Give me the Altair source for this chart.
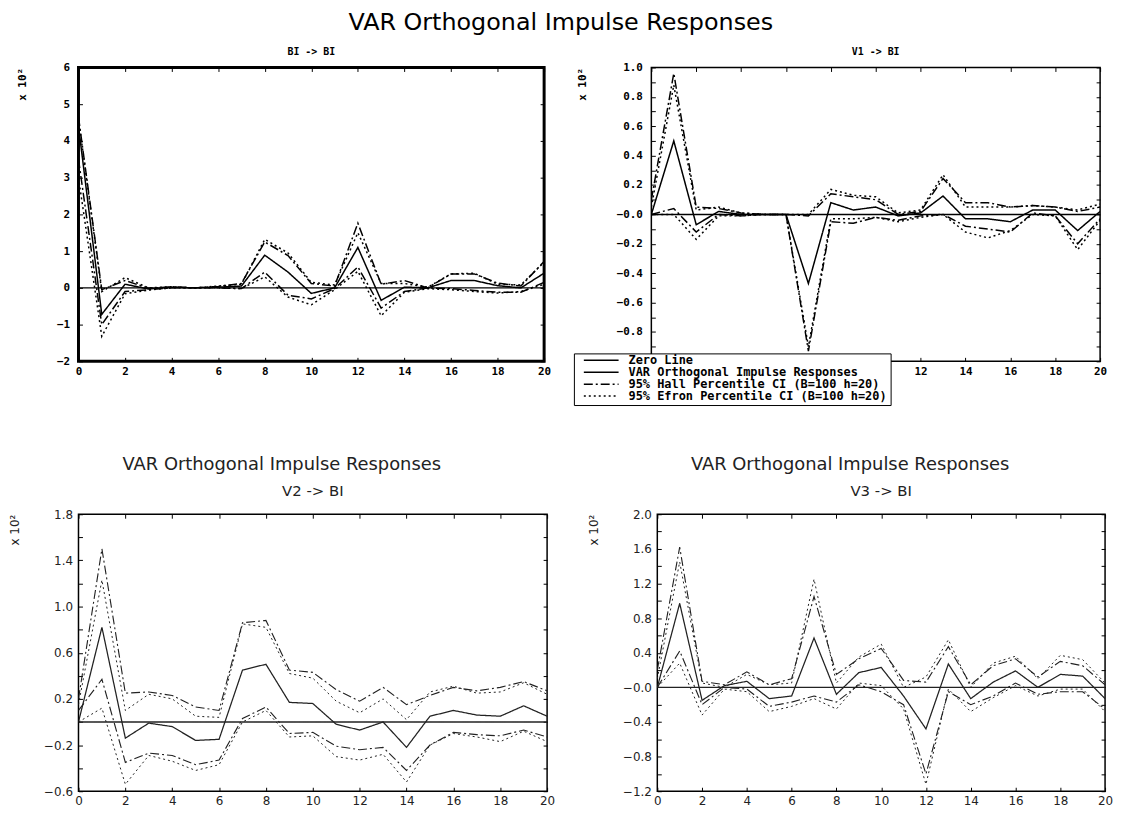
import altair as alt
import pandas as pd

STEPS = list(range(21))
SERIES = ["Zero Line", "VAR Orthogonal Impulse Responses",
          "95% Hall Percentile CI (B=100 h=20)", "95% Efron Percentile CI (B=100 h=20)"]
MAIN_TITLE = "VAR Orthogonal Impulse Responses"
PANEL_TITLES = ["BI -> BI", "V1 -> BI", "V2 -> BI", "V3 -> BI"]
ZERO = [0.0] * 21

# ---- BI -> BI
p1_main = [4.4, -0.72, 0.1, -0.03, 0.02, 0.0, 0.02, 0.05, 0.89, 0.43, -0.15, 0.0, 1.1, -0.34, 0.02, 0.0, 0.2, 0.2, 0.06, 0.0, 0.4]
p1_hall_hi = [4.65, -0.05, 0.2, -0.01, 0.03, 0.0, 0.04, 0.12, 1.25, 0.88, 0.12, 0.05, 1.76, 0.1, 0.2, 0.0, 0.38, 0.38, 0.13, 0.05, 0.72]
p1_hall_lo = [3.5, -1.0, -0.1, -0.05, 0.0, 0.0, 0.0, -0.02, 0.43, -0.2, -0.3, -0.02, 0.57, -0.55, -0.1, 0.0, -0.02, -0.07, -0.12, -0.12, 0.15]
p1_efr_hi = [4.6, -0.1, 0.28, 0.0, 0.03, 0.0, 0.05, 0.1, 1.32, 0.95, 0.15, 0.08, 1.5, 0.12, 0.12, 0.02, 0.38, 0.4, 0.1, 0.08, 0.7]
p1_efr_lo = [3.0, -1.32, -0.16, -0.06, 0.0, 0.0, 0.0, -0.02, 0.3, -0.25, -0.46, -0.05, 0.45, -0.76, -0.12, -0.02, -0.05, -0.1, -0.14, -0.1, 0.1]

# ---- V1 -> BI
p2_main = [0.0, 0.5, -0.07, 0.02, 0.0, 0.0, 0.0, -0.47, 0.08, 0.03, 0.05, -0.01, 0.01, 0.125, -0.03, -0.03, -0.05, 0.03, 0.03, -0.11, 0.02]
p2_hall_hi = [0.1, 0.96, 0.05, 0.04, 0.01, 0.0, 0.0, -0.01, 0.14, 0.12, 0.1, 0.0, 0.02, 0.245, 0.08, 0.08, 0.05, 0.06, 0.05, 0.02, 0.05]
p2_hall_lo = [0.0, 0.04, -0.12, 0.0, -0.01, 0.0, 0.0, -0.93, -0.05, -0.06, -0.02, -0.04, -0.01, 0.0, -0.08, -0.1, -0.12, 0.01, -0.01, -0.2, -0.03]
p2_efr_hi = [0.05, 0.88, 0.03, 0.05, 0.01, 0.0, 0.0, 0.0, 0.17, 0.13, 0.12, 0.01, 0.03, 0.27, 0.05, 0.05, 0.05, 0.06, 0.05, 0.03, 0.07]
p2_efr_lo = [0.0, 0.0, -0.17, -0.01, -0.01, 0.0, 0.0, -0.9, -0.03, -0.03, -0.02, -0.05, -0.02, 0.0, -0.12, -0.16, -0.11, 0.0, -0.01, -0.24, -0.04]

# ---- V2 -> BI
p3_main = [0.0, 0.82, -0.14, -0.01, -0.04, -0.16, -0.15, 0.45, 0.5, 0.17, 0.16, -0.02, -0.07, 0.0, -0.22, 0.05, 0.1, 0.06, 0.05, 0.14, 0.05]
p3_hall_hi = [0.2, 1.5, 0.25, 0.26, 0.23, 0.13, 0.1, 0.86, 0.88, 0.45, 0.43, 0.28, 0.18, 0.3, 0.15, 0.23, 0.3, 0.27, 0.3, 0.35, 0.27]
p3_hall_lo = [0.1, 0.37, -0.35, -0.27, -0.29, -0.37, -0.33, 0.03, 0.13, -0.1, -0.09, -0.21, -0.24, -0.22, -0.42, -0.2, -0.09, -0.11, -0.12, -0.07, -0.13]
p3_efr_hi = [0.15, 1.23, 0.1, 0.24, 0.2, 0.05, 0.04, 0.85, 0.82, 0.42, 0.38, 0.18, 0.08, 0.2, 0.02, 0.26, 0.31, 0.25, 0.26, 0.34, 0.24]
p3_efr_lo = [0.0, 0.12, -0.54, -0.29, -0.34, -0.42, -0.37, 0.0, 0.1, -0.13, -0.12, -0.3, -0.33, -0.28, -0.52, -0.2, -0.1, -0.13, -0.17, -0.08, -0.17]

# ---- V3 -> BI
p4_main = [0.0, 0.97, -0.15, 0.02, 0.07, -0.13, -0.1, 0.57, -0.08, 0.17, 0.23, -0.1, -0.48, 0.27, -0.13, 0.06, 0.19, 0.0, 0.15, 0.13, -0.13]
p4_hall_hi = [0.2, 1.62, 0.07, 0.03, 0.18, 0.03, 0.1, 1.05, 0.15, 0.33, 0.45, 0.08, 0.06, 0.47, 0.03, 0.25, 0.33, 0.12, 0.3, 0.25, 0.03]
p4_hall_lo = [0.0, 0.42, -0.2, 0.0, -0.02, -0.22, -0.17, -0.1, -0.17, 0.03, -0.05, -0.2, -1.0, -0.05, -0.2, -0.1, 0.05, -0.08, -0.05, -0.05, -0.25]
p4_efr_hi = [0.1, 1.45, 0.05, 0.0, 0.15, 0.03, 0.05, 1.25, 0.05, 0.35, 0.5, 0.0, 0.12, 0.55, 0.0, 0.28, 0.36, 0.1, 0.37, 0.32, 0.05]
p4_efr_lo = [0.0, 0.28, -0.32, -0.02, -0.05, -0.28, -0.22, -0.13, -0.25, 0.05, 0.02, -0.25, -1.12, -0.02, -0.28, -0.12, 0.02, -0.1, -0.02, -0.02, -0.28]

X_TICKS = list(range(0, 21, 2))


def long_frame(main, hall_hi, hall_lo, efr_hi, efr_lo):
    parts = [("zero", SERIES[0], ZERO), ("main", SERIES[1], main),
             ("hall_hi", SERIES[2], hall_hi), ("hall_lo", SERIES[2], hall_lo),
             ("efr_hi", SERIES[3], efr_hi), ("efr_lo", SERIES[3], efr_lo)]
    rows = [dict(step=s, value=v, series=name, band=band)
            for band, name, vals in parts for s, v in zip(STEPS, vals)]
    return pd.DataFrame(rows)


def panel(df, title, ydom, yticks, label_expr, w, h, style, legend=None):
    top = style["top"]
    lab_font = "DejaVu Sans Mono" if top else "DejaVu Sans"
    lab_size = 11 if top else 12
    lab_weight = "bold" if top else "normal"
    color = "black" if top else "#222"
    xscale = alt.Scale(domain=[0, 20], nice=False, zero=False)
    yscale = alt.Scale(domain=ydom, nice=False, zero=False)
    common = dict(domain=False, grid=False, tickSize=4, offset=-4, tickColor="black",
                  tickWidth=1, labelColor=color, labelFont=lab_font, labelFontSize=lab_size,
                  labelFontWeight=lab_weight, labelOverlap=False, labelFlush=False)
    xaxis = alt.Axis(values=X_TICKS, format="d", title=None,
                     labelPadding=style["xpad"], **common)
    yaxis = alt.Axis(values=yticks, labelExpr=label_expr, title="x 10²",
                     titleAnchor="end", titleFont=lab_font, titleFontSize=lab_size,
                     titleFontWeight=lab_weight, titleColor=color,
                     titlePadding=style["tpad"], labelPadding=style["ypad"], **common)
    xaxis2 = alt.Axis(values=X_TICKS, orient="top", labels=False, title=None,
                      domain=False, grid=False, tickSize=4, offset=-4, tickColor="black")
    yaxis2 = alt.Axis(values=yticks, orient="right", labels=False, title=None,
                      domain=False, grid=False, tickSize=4, offset=-4, tickColor="black")
    lines = alt.Chart(df).mark_line(color=color, clip=True).encode(
        x=alt.X("step:Q", scale=xscale, axis=xaxis),
        y=alt.Y("value:Q", scale=yscale, axis=yaxis),
        detail="band:N",
        order="step:Q",
        strokeDash=alt.StrokeDash("series:N",
                                  scale=alt.Scale(domain=SERIES,
                                                  range=[[1, 0], [1, 0], [9, 3, 2, 3], [2, 3]]),
                                  legend=legend),
        strokeWidth=alt.StrokeWidth("series:N",
                                    scale=alt.Scale(domain=SERIES, range=style["widths"]),
                                    legend=None),
    )
    mirror = alt.Chart(df).mark_point(opacity=0).encode(
        x=alt.X("step:Q", scale=xscale, axis=xaxis2),
        y=alt.Y("value:Q", scale=yscale, axis=yaxis2),
    )
    if top:
        tp = alt.TitleParams(text=title, font="DejaVu Sans Mono", fontSize=10,
                             fontWeight="bold", color="black", offset=5, anchor="middle")
    else:
        tp = alt.TitleParams(text=title, font="DejaVu Sans", fontSize=15,
                             fontWeight="normal", color="#222", offset=9, anchor="middle")
    layered = alt.layer(lines, mirror).resolve_scale(
        x="independent", y="independent").resolve_axis(
        x="independent", y="independent").properties(
        width=w, height=h, title=tp,
        view=alt.ViewBackground(stroke="black", strokeWidth=style["frame"], fill="white"))
    if top:
        return layered
    return alt.vconcat(layered).properties(
        title=alt.TitleParams(text=MAIN_TITLE, font="DejaVu Sans", fontSize=18,
                              fontWeight="normal", color="#222", anchor="middle",
                              frame="bounds", offset=10))


TOP = dict(top=True, xpad=4, ypad=9, tpad=29, frame=1.5, widths=[1.5, 1.5, 1.5, 1.5])
BOT = dict(top=False, xpad=4, ypad=6, tpad=22, frame=1.5, widths=[1.4, 1.0, 1.0, 1.0])

p1_ticks = list(range(-2, 7))
p2_ticks = [round(-1.0 + 0.1 * i, 1) for i in range(21)]
p3_ticks = [round(-0.6 + 0.2 * i, 1) for i in range(13)]
p4_ticks = [round(-1.2 + 0.2 * i, 1) for i in range(17)]

expr_p1 = "datum.label"
expr_p2 = ("abs(datum.value) < 1e-9 ? '\u22120.0' : "
           "(round(datum.value * 10) % 2 == 0 ? format(datum.value, '.1f') : '')")
expr_p3 = ("(round(datum.value * 10) % 4 == 2 || round(datum.value * 10) % 4 == -2) "
           "? format(datum.value, '.1f') : ''")
expr_p4 = ("abs(datum.value) < 1e-9 ? '\u22120.0' : "
           "(round(datum.value * 10) % 4 == 0 ? format(datum.value, '.1f') : '')")

legend = alt.Legend(orient="none", legendX=-78, legendY=288, title=None,
                    symbolType="stroke", symbolStrokeColor="black", symbolSize=1225,
                    symbolStrokeWidth=1.3, clipHeight=8, labelFont="DejaVu Sans Mono",
                    labelFontSize=12, labelFontWeight="bold", labelColor="black",
                    labelLimit=0, fillColor="white", strokeColor="black", padding=3,
                    rowPadding=0, symbolOffset=6, labelOffset=9)

s1 = dict(TOP, frame=3)
c1 = panel(long_frame(p1_main, p1_hall_hi, p1_hall_lo, p1_efr_hi, p1_efr_lo), PANEL_TITLES[0],
           [-2, 6], p1_ticks, expr_p1, 469, 296, s1)
c2 = panel(long_frame(p2_main, p2_hall_hi, p2_hall_lo, p2_efr_hi, p2_efr_lo), PANEL_TITLES[1],
           [-1, 1], p2_ticks, expr_p2, 452, 296, TOP, legend=legend)
c3 = panel(long_frame(p3_main, p3_hall_hi, p3_hall_lo, p3_efr_hi, p3_efr_lo), PANEL_TITLES[2],
           [-0.6, 1.8], p3_ticks, expr_p3, 472, 279, BOT)
c4 = panel(long_frame(p4_main, p4_hall_hi, p4_hall_lo, p4_efr_hi, p4_efr_lo), PANEL_TITLES[3],
           [-1.2, 2.0], p4_ticks, expr_p4, 451, 279, BOT)

row1 = alt.hconcat(c1, c2, spacing=19).resolve_scale(
    strokeDash="independent", strokeWidth="independent").resolve_legend(strokeDash="independent")
row2 = alt.hconcat(c3, c4, spacing=31).resolve_scale(
    strokeDash="independent", strokeWidth="independent").resolve_legend(strokeDash="independent")

chart = alt.vconcat(row1, row2, spacing=49).resolve_scale(
    strokeDash="independent", strokeWidth="independent").resolve_legend(
    strokeDash="independent").properties(
    title=alt.TitleParams(text=MAIN_TITLE, font="DejaVu Sans", fontSize=24,
                          fontWeight="normal", color="black", anchor="middle", offset=10),
    padding={"left": 0, "top": 0, "right": 0, "bottom": 0},
).configure_view(stroke="black")

chart.save("out.html", embed_options={"renderer": "svg", "actions": False})
